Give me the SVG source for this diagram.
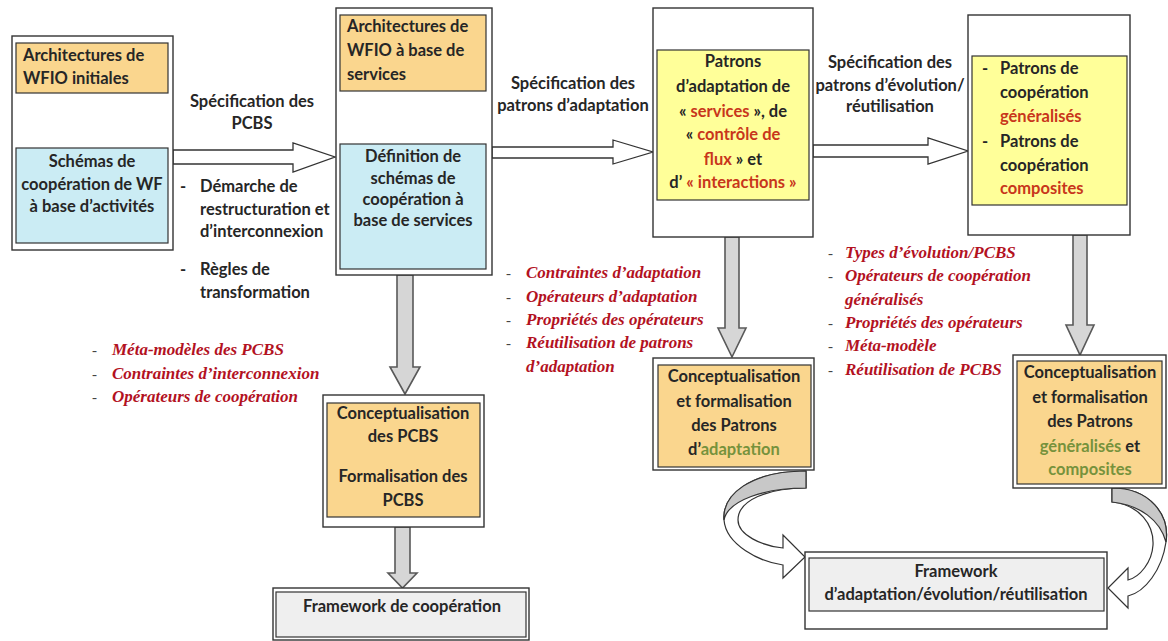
<svg xmlns="http://www.w3.org/2000/svg" width="1168" height="641" viewBox="0 0 1168 641">
  <style>
    .outer { fill: #ffffff; stroke: #333333; stroke-width: 1.4; }
    .orange { fill: #fad68e; stroke: #333333; stroke-width: 1.2; }
    .blue { fill: #cbecf4; stroke: #333333; stroke-width: 1.2; }
    .yellow { fill: #ffff99; stroke: #333333; stroke-width: 1.2; }
    .grey { fill: #efefef; stroke: #333333; stroke-width: 1.2; }
    .t { font-family: Lato, "Liberation Sans", sans-serif; font-weight: 700; font-size: 16.5px; fill: #262626; }
    .c { text-anchor: middle; }
    .r { fill: #c8361b; }
    .g { fill: #76923c; }
    .it { font-family: "Liberation Serif", "Times New Roman", serif; font-weight: 700; font-style: italic; font-size: 17px; fill: #b3121f; }
    .dash { font-family: "Liberation Serif", serif; font-size: 15px; fill: #444444; }
    .hollow { fill: #ffffff; stroke: #333333; stroke-width: 1.3; stroke-linejoin: miter; }
    .down { fill: #d6d6d6; stroke: #595959; stroke-width: 1.6; stroke-linejoin: miter; }
    .ribbon { fill: #ffffff; stroke: #333333; stroke-width: 1.2; }
    .ribbon-back { fill: #c8c8c8; stroke: #333333; stroke-width: 1.2; }
  </style>

  <!-- connectors -->
  <g id="connectors">
    <!-- hollow horizontal arrows -->
    <path class="hollow" d="M173 150 H293 V143 L335 157 L293 172 V164 H173 Z"/>
    <path class="hollow" d="M492 147 H613 V140 L653 152 L613 164 V158 H492 Z"/>
    <path class="hollow" d="M813 145 H928 V138 L968 151 L928 164 V157 H813 Z"/>
    <!-- grey downward arrows -->
    <path class="down" d="M397 275 H413 V367 H420 L405 394 L390 367 H397 Z"/>
    <path class="down" d="M395 527 H410 V573 H417 L402.5 588 L388 573 H395 Z"/>
    <path class="down" d="M725 237 H739 V328 H746 L732 357 L718 328 H725 Z"/>
    <path class="down" d="M1073 235 H1087 V325 H1094 L1080 355 L1066 325 H1073 Z"/>
    <!-- curved ribbon arrows towards the framework -->
    <path class="ribbon" d="M806 471 C750 471 722 495 724 520 C726 545 760 562 783 565 L783 578 L805 557 L783 535 L783 548 C762 546 738 535 738 520 C738 500 768 488 806 488 Z"/>
    <path class="ribbon-back" d="M806 471 C750 471 722 495 724 520 C728 500 765 488 806 488 Z"/>
    <path class="ribbon" d="M1112 488 C1150 488 1170 515 1166 542 C1162 570 1145 592 1128 596 L1128 608 L1108 588 L1128 568 L1128 580 C1140 577 1152 562 1153 545 C1154 525 1140 505 1112 502 Z"/>
    <path class="ribbon-back" d="M1112 488 C1150 488 1170 515 1166 542 C1160 520 1140 505 1112 502 Z"/>
  </g>

  <!-- initial WFIO architectures -->
  <g id="node-initial">
    <rect class="outer" x="12" y="36" width="161" height="214"/>
    <rect class="orange" x="16" y="43" width="152" height="50"/>
    <text class="t" x="23" y="61">Architectures de</text>
    <text class="t" x="23" y="84">WFIO initiales</text>
    <rect class="blue" x="16" y="148" width="152" height="95"/>
    <text class="t c" x="92" y="167">Schémas de</text>
    <text class="t c" x="92" y="190">coopération de WF</text>
    <text class="t c" x="92" y="212">à base d’activités</text>
  </g>

  <g id="label-pcbs">
    <text class="t c" x="252" y="107">Spécification des</text>
    <text class="t c" x="252" y="129">PCBS</text>
    <text class="t" x="180" y="192">-</text>
    <text class="t" x="200" y="192">Démarche de</text>
    <text class="t" x="200" y="215">restructuration et</text>
    <text class="t" x="200" y="237">d’interconnexion</text>
    <text class="t" x="180" y="275">-</text>
    <text class="t" x="200" y="275">Règles de</text>
    <text class="t" x="200" y="298">transformation</text>
  </g>

  <!-- service-based WFIO architectures -->
  <g id="node-services">
    <rect class="outer" x="336" y="8" width="156" height="267"/>
    <rect class="orange" x="340" y="15" width="146" height="76"/>
    <text class="t" x="347" y="32">Architectures de</text>
    <text class="t" x="347" y="56">WFIO à base de</text>
    <text class="t" x="347" y="80">services</text>
    <rect class="blue" x="340" y="144" width="146" height="125"/>
    <text class="t c" x="413" y="162">Définition de</text>
    <text class="t c" x="413" y="184">schémas de</text>
    <text class="t c" x="413" y="205">coopération à</text>
    <text class="t c" x="413" y="226">base de services</text>
  </g>

  <g id="label-adaptation">
    <text class="t c" x="573" y="89">Spécification des</text>
    <text class="t c" x="573" y="111">patrons d’adaptation</text>
  </g>

  <!-- adaptation patterns -->
  <g id="node-adaptation">
    <rect class="outer" x="653" y="8" width="160" height="229"/>
    <rect class="yellow" x="657" y="50" width="152" height="150"/>
    <text class="t c" x="733" y="67">Patrons</text>
    <text class="t c" x="733" y="92">d’adaptation de</text>
    <text class="t c" x="733" y="117">« <tspan class="r">services</tspan> », de</text>
    <text class="t c" x="733" y="140">« <tspan class="r">contrôle de</tspan></text>
    <text class="t c" x="733" y="165"><tspan class="r">flux</tspan> » et</text>
    <text class="t c" x="733" y="188">d’ <tspan class="r">« interactions »</tspan></text>
  </g>

  <g id="label-evolution">
    <text class="t c" x="890" y="68">Spécification des</text>
    <text class="t c" x="890" y="91">patrons d’évolution/</text>
    <text class="t c" x="890" y="112">réutilisation</text>
  </g>

  <!-- generalised / composite patterns -->
  <g id="node-cooperation">
    <rect class="outer" x="968" y="15" width="162" height="220"/>
    <rect class="yellow" x="972" y="56" width="155" height="149"/>
    <text class="t" x="982" y="74">-</text>
    <text class="t" x="1000" y="74">Patrons de</text>
    <text class="t" x="1000" y="98">coopération</text>
    <text class="t r" x="1000" y="122">généralisés</text>
    <text class="t" x="982" y="147">-</text>
    <text class="t" x="1000" y="147">Patrons de</text>
    <text class="t" x="1000" y="171">coopération</text>
    <text class="t r" x="1000" y="194">composites</text>
  </g>

  <!-- italic notes -->
  <g id="notes-pcbs">
    <text class="dash" x="92" y="355">-</text>
    <text class="it" x="112" y="355">Méta-modèles des PCBS</text>
    <text class="dash" x="92" y="379">-</text>
    <text class="it" x="112" y="379">Contraintes d’interconnexion</text>
    <text class="dash" x="92" y="402">-</text>
    <text class="it" x="112" y="402">Opérateurs de coopération</text>
  </g>

  <g id="notes-adaptation">
    <text class="dash" x="506" y="278">-</text>
    <text class="it" x="526" y="278">Contraintes d’adaptation</text>
    <text class="dash" x="506" y="302">-</text>
    <text class="it" x="526" y="302">Opérateurs d’adaptation</text>
    <text class="dash" x="506" y="325">-</text>
    <text class="it" x="526" y="325">Propriétés des opérateurs</text>
    <text class="dash" x="506" y="348">-</text>
    <text class="it" x="526" y="348">Réutilisation de patrons</text>
    <text class="it" x="526" y="372">d’adaptation</text>
  </g>

  <g id="notes-evolution">
    <text class="dash" x="828" y="258">-</text>
    <text class="it" x="845" y="258">Types d’évolution/PCBS</text>
    <text class="dash" x="828" y="281">-</text>
    <text class="it" x="845" y="281">Opérateurs de coopération</text>
    <text class="it" x="845" y="305">généralisés</text>
    <text class="dash" x="828" y="328">-</text>
    <text class="it" x="845" y="328">Propriétés des opérateurs</text>
    <text class="dash" x="828" y="351">-</text>
    <text class="it" x="845" y="351">Méta-modèle</text>
    <text class="dash" x="828" y="375">-</text>
    <text class="it" x="845" y="375">Réutilisation de PCBS</text>
  </g>

  <!-- PCBS conceptualisation -->
  <g id="node-pcbs">
    <rect class="outer" x="323" y="395" width="161" height="132"/>
    <rect class="orange" x="327" y="403" width="153" height="114"/>
    <text class="t c" x="403" y="419">Conceptualisation</text>
    <text class="t c" x="403" y="442">des PCBS</text>
    <text class="t c" x="403" y="482">Formalisation des</text>
    <text class="t c" x="403" y="506">PCBS</text>
  </g>

  <!-- adaptation pattern formalisation -->
  <g id="node-adapt-formal">
    <rect class="outer" x="653" y="358" width="161" height="112"/>
    <rect class="orange" x="658" y="365" width="153" height="102"/>
    <text class="t c" x="734" y="382">Conceptualisation</text>
    <text class="t c" x="734" y="407">et formalisation</text>
    <text class="t c" x="734" y="431">des Patrons</text>
    <text class="t c" x="734" y="455">d’<tspan class="g">adaptation</tspan></text>
  </g>

  <!-- generalised / composite pattern formalisation -->
  <g id="node-coop-formal">
    <rect class="outer" x="1013" y="355" width="153" height="133"/>
    <rect class="orange" x="1017" y="361" width="145" height="123"/>
    <text class="t c" x="1090" y="378">Conceptualisation</text>
    <text class="t c" x="1090" y="403">et formalisation</text>
    <text class="t c" x="1090" y="427">des Patrons</text>
    <text class="t c" x="1090" y="452"><tspan class="g">généralisés</tspan> et</text>
    <text class="t c g" x="1090" y="475">composites</text>
  </g>

  <!-- frameworks -->
  <g id="node-framework-coop">
    <rect class="outer" x="273" y="588" width="256" height="52"/>
    <rect class="grey" x="276" y="592" width="250" height="45"/>
    <text class="t c" x="402" y="612">Framework de coopération</text>
  </g>

  <g id="node-framework-evol">
    <rect class="outer" x="805" y="552" width="302" height="77"/>
    <rect class="grey" x="809" y="558" width="295" height="53"/>
    <text class="t c" x="956" y="577">Framework</text>
    <text class="t c" x="956" y="600">d’adaptation/évolution/réutilisation</text>
  </g>
</svg>
